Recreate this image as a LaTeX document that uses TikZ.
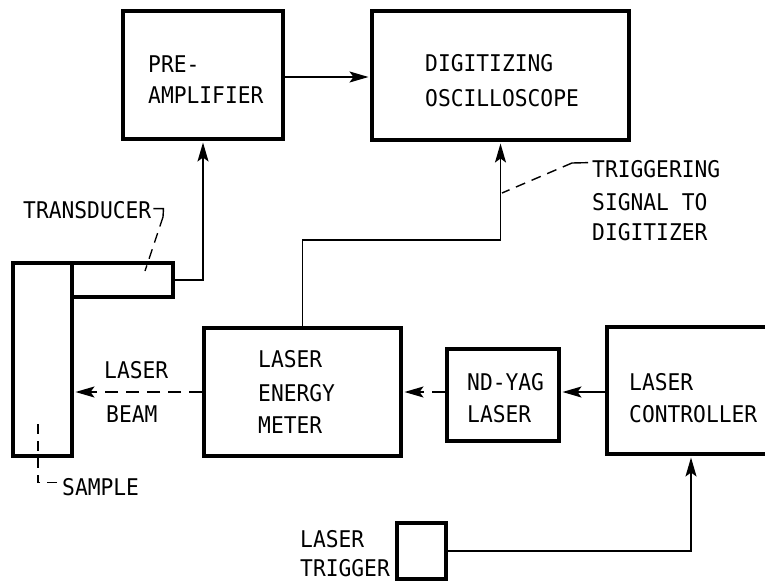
\documentclass[tikz,border=0pt]{standalone}
\usepackage{fontspec}
\newfontfamily\labfont[FakeStretch=0.925]{DejaVu Sans Mono}
\usetikzlibrary{arrows.meta}
\begin{document}
\begin{tikzpicture}[x=1pt,y=-1pt,
  box/.style={draw, line width=4pt, rectangle, inner sep=0pt},
  conn/.style={line width=1.8pt},
  arr/.style={conn, -{Stealth[length=19pt,width=11pt,inset=4pt]}, shorten >=1.5pt},
  beam/.style={arr, dash pattern=on 13pt off 8pt},
  lead/.style={line width=1.4pt, dash pattern=on 10pt off 7pt},
  thinl/.style={line width=1.4pt},
  lbl/.style={anchor=base west, inner sep=0pt, font=\labfont\fontsize{23}{23}\selectfont}]
\useasboundingbox (0,0) rectangle (765,581);
\fill[white] (0,0) rectangle (765,581);

% boxes
\node[box, minimum width=160pt, minimum height=128pt] (pre) at (203,75) {};
\node[box, minimum width=257pt, minimum height=129pt] (osc) at (500.5,75.5) {};
\node[box, minimum width=197pt, minimum height=128pt] (meter) at (302.5,392) {};
\node[box, minimum width=112pt, minimum height=92pt] (yag) at (503,395) {};
\node[box, minimum width=168pt, minimum height=127pt] (ctrl) at (691,390.5) {};
\node[box, minimum width=49pt, minimum height=56pt] (trig) at (421.5,551) {};
\node[box, minimum width=59pt, minimum height=193pt] (sample) at (42.5,359.5) {};
\node[box, minimum width=101pt, minimum height=34pt] (trans) at (122.5,280) {};

% box texts
\node[lbl] (pre1) at (148,72) {PRE-};
\node[lbl] (pre2) at (148,103) {AMPLIFIER};
\node[lbl] (osc1) at (425,71) {DIGITIZING};
\node[lbl] (osc2) at (425,106) {OSCILLOSCOPE};
\node[lbl] (met1) at (258,367) {LASER};
\node[lbl] (met2) at (258,401) {ENERGY};
\node[lbl] (met3) at (258,433) {METER};
\node[lbl] (yag1) at (467,390) {ND-YAG};
\node[lbl] (yag2) at (467,422) {LASER};
\node[lbl] (ctl1) at (629,390) {LASER};
\node[lbl] (ctl2) at (629,422) {CONTROLLER};
\node[lbl] (trg1) at (300,547) {LASER};
\node[lbl] (trg2) at (300,576) {TRIGGER};
\node[lbl] (bm1) at (104,378) {LASER};
\node[lbl] (bm2) at (106,422) {BEAM};
\node[lbl] (trl) at (23,218) {TRANSDUCER};
\node[lbl] (tg1) at (592,177) {TRIGGERING};
\node[lbl] (tg2) at (592,210) {SIGNAL TO};
\node[lbl] (tg3) at (592,240) {DIGITIZER};
\node[lbl] (sml) at (62,495) {SAMPLE};

% connectors
\coordinate (ay) at (0,77);
\coordinate (tb) at (0,240);
\coordinate (by) at (0,392);
\draw[arr] (pre.east |- ay) -- (osc.west |- ay);
\draw[arr] (trans.east) -| (pre.south);
\draw[arr] (meter.north) -- (meter.north |- tb) -| (osc.south);
\draw[arr] (ctrl.west |- by) -- (yag.east |- by);
\draw[beam] (yag.west |- by) -- (meter.east |- by);
\draw[beam] (meter.west |- by) -- (sample.east |- by);
\draw[arr] (trig.east) -| (ctrl.south);

% leaders
\coordinate (trtip) at (145,271);
\coordinate (trk) at (163,217);
\draw[thinl] ([xshift=2pt,yshift=1pt]trl.east) -- ++(10,0) -- (trk);
\draw[lead] (trk) -- (trtip);
\coordinate (smtip) at (38,422);
\draw[lead] ([xshift=-5pt,yshift=4pt]sml.west) -| (smtip);
\coordinate (tgtip) at (502,193);
\coordinate (tgk) at (572,163);
\draw[thinl] ([xshift=-4pt,yshift=6pt]tg1.west) -- (tgk);
\draw[lead] (tgk) -- (tgtip);
\end{tikzpicture}
\end{document}
